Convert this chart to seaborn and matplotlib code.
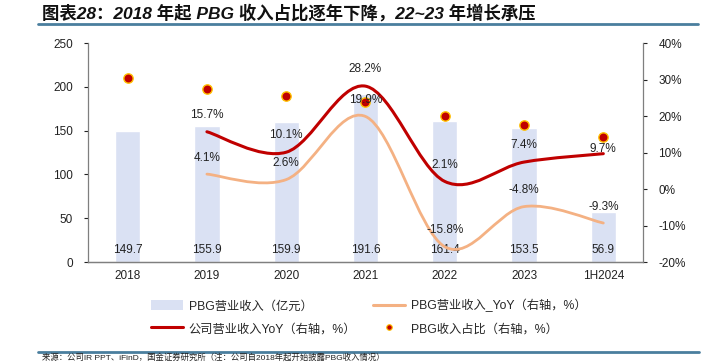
import numpy as np
import pandas as pd
import seaborn as sns
import matplotlib.pyplot as plt
from matplotlib.path import Path
from matplotlib.patches import PathPatch
from matplotlib.lines import Line2D
from matplotlib.patches import Patch

years = ['2018', '2019', '2020', '2021', '2022', '2023', '1H2024']
pbg_revenue = [149.7, 155.9, 159.9, 191.6, 161.4, 153.5, 56.9]
pbg_yoy = [None, 4.1, 2.6, 19.9, -15.8, -4.8, -9.3]
company_yoy = [None, 15.7, 10.1, 28.2, 2.1, 7.4, 9.7]
pbg_share = [30.5, 27.5, 25.5, 23.9, 20.0, 17.6, 14.2]

title = '图表28：2018 年起 PBG 收入占比逐年下降，22~23 年增长承压'
source = '来源：公司IR PPT、iFinD，国金证券研究所（注：公司自2018年起开始披露PBG收入情况）'

BAR = '#DAE1F3'
RED = '#C00000'
ORANGE = '#F4B183'
RULE = '#4A7E9E'

sns.set_theme(style='white')
plt.rcParams['font.family'] = ['Liberation Sans', 'Noto Sans CJK SC', 'DejaVu Sans']
plt.rcParams['axes.unicode_minus'] = False


def smooth_path(xs, ys):
    # Excel-like smoothed line: Catmull-Rom segments as cubic bezier
    pts = np.column_stack([xs, ys]).astype(float)
    verts = [pts[0]]
    codes = [Path.MOVETO]
    n = len(pts)
    for i in range(n - 1):
        p0 = pts[max(i - 1, 0)]
        p1 = pts[i]
        p2 = pts[i + 1]
        p3 = pts[min(i + 2, n - 1)]
        verts += [p1 + (p2 - p0) / 6, p2 - (p3 - p1) / 6, p2]
        codes += [Path.CURVE4] * 3
    return Path(verts, codes)


fig = plt.figure(figsize=(7.23, 3.62), dpi=100)
ax = fig.add_axes([0.1217, 0.276, 0.7676, 0.605])

df = pd.DataFrame({'year': years, 'rev': pbg_revenue})
sns.barplot(data=df, x='year', y='rev', color=BAR, width=0.32, saturation=1, ax=ax)
ax.set_xlim(-0.5, len(years) - 0.5)
ax.set_ylim(0, 250)
ax.set_yticks(range(0, 251, 50))
ax.set_xlabel('')
ax.set_ylabel('')

ax2 = ax.twinx()
ax2.set_ylim(-20, 40)
ax2.set_yticks(range(-20, 41, 10))
ax2.set_yticklabels([f'{v}%' for v in range(-20, 41, 10)])

x = np.arange(len(years))
for vals, col, lw in [(pbg_yoy, ORANGE, 2.0), (company_yoy, RED, 2.2)]:
    xs = [xi for xi, v in zip(x, vals) if v is not None]
    ys = [v for v in vals if v is not None]
    ax2.add_patch(PathPatch(smooth_path(xs, ys), fill=False, edgecolor=col,
                            lw=lw, capstyle='round', zorder=3))

sns.scatterplot(x=x, y=pbg_share, ax=ax2, color=RED, edgecolor='#FFC000',
                linewidth=1, s=45, zorder=4, legend=False)

# labels
for xi, v in zip(x, pbg_revenue):
    ax.text(xi, 14, f'{v:.1f}', ha='center', va='center', fontsize=8.5, color='#222222')
for xi, v in zip(x, pbg_yoy):
    if v is not None:
        ax2.text(xi, v + 4.5, f'{v:.1f}%', ha='center', va='center', fontsize=8.5, color='#222222', zorder=5)
for xi, v in zip(x, company_yoy):
    if v is not None:
        dy = 1.4 if xi == len(years) - 1 else 4.6
        ax2.text(xi, v + dy, f'{v:.1f}%', ha='center', va='center', fontsize=8.5, color='#222222', zorder=5)

for a in (ax, ax2):
    a.spines['top'].set_visible(False)
    a.tick_params(labelsize=8.5, colors='#222222', length=3, width=0.8)
    for s in ('left', 'right', 'bottom'):
        a.spines[s].set_color('#7F7F7F')
        a.spines[s].set_linewidth(0.9)
ax.spines['right'].set_visible(False)
ax2.spines['left'].set_visible(False)
ax.tick_params(axis='x', length=0, pad=6)
ax.tick_params(axis='y', left=True, direction='out', pad=8)
ax2.tick_params(axis='y', right=True, direction='out', pad=8)

handles = [
    Patch(facecolor=BAR, edgecolor='none'),
    Line2D([], [], color=RED, lw=2.2),
    Line2D([], [], color=ORANGE, lw=2.2),
    Line2D([], [], ls='none', marker='o', markersize=4, markerfacecolor=RED,
           markeredgecolor='#FFC000', markeredgewidth=0.8),
]
labels = ['PBG营业收入（亿元）', '公司营业收入YoY（右轴，%）',
          'PBG营业收入_YoY（右轴，%）', 'PBG收入占比（右轴，%）']
fig.legend(handles, labels, ncol=2, loc='center', bbox_to_anchor=(0.51, 0.124),
           frameon=False, fontsize=8.8, handlelength=2.6, handletextpad=0.45,
           columnspacing=1.4, labelspacing=0.85, handleheight=0.9)

fig.text(0.058, 0.966, title, fontsize=12.5, fontweight='bold', style='italic',
         ha='left', va='center', color='#111111')
fig.add_artist(Line2D([0.052, 0.965], [0.934, 0.934], transform=fig.transFigure,
                      color=RULE, lw=2))
fig.add_artist(Line2D([0.052, 0.967], [0.028, 0.028], transform=fig.transFigure,
                      color=RULE, lw=2))
fig.text(0.058, 0.002, source, fontsize=6, ha='left', va='bottom', color='#222222')

fig.savefig('out.png', dpi=100)
